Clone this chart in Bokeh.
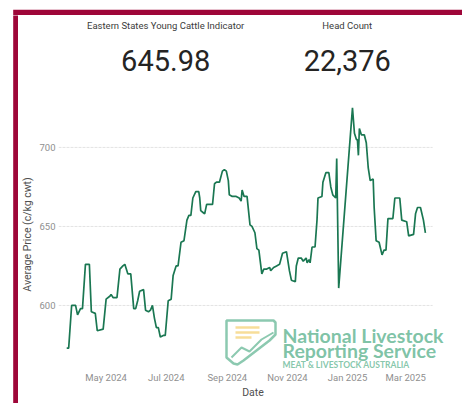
import pandas as pd
from bokeh.plotting import figure
from bokeh.layouts import row, column
from bokeh.models import (ColumnDataSource, Range1d, FixedTicker, DatetimeTickFormatter,
                          Label, BoxAnnotation, PolyAnnotation)
from bokeh.embed import file_html
from bokeh.resources import INLINE

# ---------------- data ----------------
dates = [
    "2024-03-22", "2024-03-24", "2024-03-27", "2024-03-31", "2024-04-02", "2024-04-05",
    "2024-04-07", "2024-04-10", "2024-04-14", "2024-04-16", "2024-04-20", "2024-04-22",
    "2024-04-28", "2024-05-01", "2024-05-05", "2024-05-06", "2024-05-08", "2024-05-12",
    "2024-05-15", "2024-05-18", "2024-05-20", "2024-05-21", "2024-05-23", "2024-05-26",
    "2024-05-29", "2024-05-31", "2024-06-02", "2024-06-04", "2024-06-08", "2024-06-10",
    "2024-06-13", "2024-06-15", "2024-06-17", "2024-06-19", "2024-06-21", "2024-06-23",
    "2024-06-25", "2024-06-28", "2024-06-30", "2024-07-03", "2024-07-06", "2024-07-08",
    "2024-07-11", "2024-07-13", "2024-07-16", "2024-07-19", "2024-07-22", "2024-07-24",
    "2024-07-26", "2024-07-28", "2024-07-31", "2024-08-03", "2024-08-04", "2024-08-05",
    "2024-08-07", "2024-08-09", "2024-08-11", "2024-08-17", "2024-08-19", "2024-08-21",
    "2024-08-24", "2024-08-27", "2024-08-29", "2024-08-31", "2024-09-02", "2024-09-03",
    "2024-09-06", "2024-09-10", "2024-09-13", "2024-09-15", "2024-09-16", "2024-09-18",
    "2024-09-21", "2024-09-24", "2024-09-26", "2024-09-29", "2024-10-01", "2024-10-03",
    "2024-10-06", "2024-10-08", "2024-10-11", "2024-10-14", "2024-10-15", "2024-10-18",
    "2024-10-21", "2024-10-24", "2024-10-27", "2024-10-31", "2024-11-03", "2024-11-05",
    "2024-11-09", "2024-11-10", "2024-11-12", "2024-11-15", "2024-11-17", "2024-11-20",
    "2024-11-21", "2024-11-23", "2024-11-24", "2024-11-26", "2024-11-29", "2024-12-01",
    "2024-12-02", "2024-12-06", "2024-12-07", "2024-12-10", "2024-12-13", "2024-12-15",
    "2024-12-17", "2024-12-20", "2024-12-21", "2024-12-23", "2025-01-06", "2025-01-08",
    "2025-01-10", "2025-01-11", "2025-01-12", "2025-01-13", "2025-01-15", "2025-01-18",
    "2025-01-20", "2025-01-22", "2025-01-24", "2025-01-27", "2025-01-28", "2025-01-30",
    "2025-02-02", "2025-02-05", "2025-02-07", "2025-02-09", "2025-02-11", "2025-02-16",
    "2025-02-18", "2025-02-23", "2025-02-25", "2025-03-02", "2025-03-04", "2025-03-09",
    "2025-03-11", "2025-03-13", "2025-03-16", "2025-03-19", "2025-03-21",
]
prices = [
    573, 573, 600, 600, 594, 598,
    598, 626, 626, 596, 595, 584,
    585, 604, 606, 607, 605, 605,
    623, 625, 626, 624, 620, 620,
    598, 598, 603, 609, 610, 597,
    596, 597, 600, 592, 586, 586,
    580, 581, 581, 603, 604, 619,
    625, 625, 640, 641, 654, 657,
    657, 668, 672, 672, 668, 660,
    659, 658, 664, 664, 677, 678,
    678, 685, 686, 685, 679, 670,
    669, 669, 668, 666, 673, 669,
    669, 651, 650, 646, 636, 635,
    620, 623, 623, 624, 622, 624,
    625, 626, 633, 634, 622, 616,
    615, 625, 630, 630, 628, 630,
    627, 629, 627, 637, 637, 654,
    668, 669, 678, 684, 684, 675,
    670, 668, 693, 611, 725, 709,
    705, 705, 695, 712, 708, 708,
    703, 687, 679, 680, 662, 641,
    640, 632, 635, 635, 655, 655,
    668, 668, 654, 653, 644, 645,
    658, 662, 662, 654, 645.98,
]
tick_dates = ["2024-05-01", "2024-07-01", "2024-09-01", "2024-11-01", "2025-01-01", "2025-03-01"]
y_ticks = [600, 650, 700]
card_titles = ["Eastern States Young Cattle Indicator", "Head Count"]
card_values = ["645.98", "22,376"]
y_label = "Average Price (c/kg cwt)"
x_label = "Date"
logo_lines = ["National Livestock", "Reporting Service", "MEAT & LIVESTOCK AUSTRALIA"]

RED = "#9e0639"
TEAL = "#78bfa2"
YELLOW = "#f6d98e"

# page geometry (content starts at the window's top-left corner)
PAGE_W, PAGE_H = 462, 403
TOPBAR_H = 15
LEFTBAR_W = 18
CW = PAGE_W - LEFTBAR_W          # 444
HEAD_H = 85                      # page y 15 .. 100
CH = PAGE_H - TOPBAR_H - HEAD_H  # 303, page y 100 .. 403
C_LEFT, C_RIGHT, C_TOP, C_BOTTOM = 37, 15, 0, 35
FRAME_L = LEFTBAR_W + C_LEFT            # 55
FRAME_R = PAGE_W - C_RIGHT              # 447
FRAME_B = PAGE_H - C_BOTTOM             # 368
GRID_R = 432                            # gridlines stop here (page px)
PX_PER_DAY = 0.993


def bare(width, height, xr, yr, **kw):
    f = figure(width=width, height=height, output_backend="svg", toolbar_location=None,
               x_range=Range1d(*xr), y_range=Range1d(*yr),
               x_axis_location=None, y_axis_location=None, **kw)
    f.grid.visible = False
    f.outline_line_color = None
    f.background_fill_color = "white"
    f.border_fill_color = "white"
    return f


# ---------------- red frame bars ----------------
topbar = bare(PAGE_W, TOPBAR_H, (0, PAGE_W), (TOPBAR_H, 0), min_border=0)
topbar.add_layout(BoxAnnotation(left=12.7, right=PAGE_W, top=9.3, bottom=TOPBAR_H + 1,
                                fill_color=RED, fill_alpha=1, line_color=None))
leftbar = bare(LEFTBAR_W, PAGE_H - TOPBAR_H, (0, LEFTBAR_W), (PAGE_H - TOPBAR_H, 0), min_border=0)
leftbar.add_layout(BoxAnnotation(left=12.7, right=LEFTBAR_W, top=-1, bottom=PAGE_H,
                                 fill_color=RED, fill_alpha=1, line_color=None))

# ---------------- header cards (page coordinates) ----------------
head = bare(CW, HEAD_H, (FRAME_L, FRAME_R), (TOPBAR_H + HEAD_H, TOPBAR_H),
            min_border_left=C_LEFT, min_border_right=C_RIGHT,
            min_border_top=0, min_border_bottom=0)
card_x = [163, 346]
for i in range(2):
    head.add_layout(Label(x=card_x[i], y=25, text=card_titles[i], text_align="center",
                          text_baseline="middle", text_font="Roboto",
                          text_font_size="9.5px", text_color="#3c3c3c"))
    head.add_layout(Label(x=card_x[i], y=60, text=card_values[i], text_align="center",
                          text_baseline="middle", text_font="Roboto",
                          text_font_size="29px", text_color="#252423"))

# ---------------- chart ----------------
src = ColumnDataSource(dict(date=pd.to_datetime(dates), price=prices))
x_start = pd.Timestamp("2024-03-13 16:00")
x_end = x_start + pd.Timedelta(days=(FRAME_R - FRAME_L) / PX_PER_DAY)
x_grid_end = x_start + pd.Timedelta(days=(GRID_R - FRAME_L) / PX_PER_DAY)
p = figure(width=CW, height=CH, output_backend="svg", toolbar_location=None,
           x_axis_type="datetime",
           x_range=Range1d(x_start, x_end),
           y_range=Range1d(560.1, 729.7),
           min_border_left=C_LEFT, min_border_right=C_RIGHT,
           min_border_top=C_TOP, min_border_bottom=C_BOTTOM)
p.outline_line_color = None
p.background_fill_color = "white"
p.border_fill_color = "white"

# horizontal gridlines at the y ticks, spanning the plotted date extent
grid_src = ColumnDataSource(dict(x0=[x_start] * len(y_ticks), x1=[x_grid_end] * len(y_ticks),
                                 y=y_ticks))
p.segment(x0="x0", x1="x1", y0="y", y1="y", source=grid_src,
          line_color="#e3e3e3", line_width=1, line_dash="3 1")

p.line("date", "price", source=src, line_color="#1a7752", line_width=1.7)

tick_ms = [float(pd.Timestamp(d).value // 10**6) for d in tick_dates]
p.xaxis.ticker = FixedTicker(ticks=tick_ms)
fmt = "%b %Y"
p.xaxis.formatter = DatetimeTickFormatter(days=fmt, months=fmt, years=fmt, hours=fmt,
                                          minutes=fmt, seconds=fmt, milliseconds=fmt,
                                          microseconds=fmt, minsec=fmt, hourmin=fmt)
p.yaxis.ticker = FixedTicker(ticks=y_ticks)

for ax in (p.xaxis[0], p.yaxis[0]):
    ax.axis_line_color = None
    ax.major_tick_line_color = None
    ax.minor_tick_line_color = None
    ax.major_tick_out = 0
    ax.major_tick_in = 0
    ax.minor_tick_out = 0
    ax.minor_tick_in = 0
    ax.major_label_text_color = "#8f8f8f"
    ax.major_label_text_font = "Roboto"
    ax.major_label_text_font_size = "9.5px"
    ax.axis_label_text_font = "Roboto"
    ax.axis_label_text_font_style = "normal"
    ax.axis_label_text_color = "#505050"
    ax.axis_label_text_font_size = "10.5px"

p.xaxis.axis_label = x_label
p.yaxis.axis_label = y_label
p.xaxis.major_label_standoff = 3
p.xaxis.axis_label_standoff = 0
p.yaxis.major_label_standoff = 3
p.yaxis.axis_label_standoff = 2

p.xgrid.grid_line_color = None
p.ygrid.grid_line_color = None


def sx(x):  # page x -> frame screen x
    return x - FRAME_L


def sy(y):  # page y -> frame screen y (from bottom)
    return FRAME_B - y


# ---------------- watermark logo ----------------
ox = [223, 270, 272, 272, 266, 240, 234, 230, 223]
oy = [320, 320, 322, 334, 340, 360, 364, 363, 357]
p.add_layout(PolyAnnotation(xs=[sx(v) for v in ox], ys=[sy(v) for v in oy],
                            xs_units="screen", ys_units="screen",
                            fill_color=None, fill_alpha=0, line_color=TEAL, line_width=2.5,
                            line_alpha=0.85))
zx = [228, 238, 246, 258, 270]
zy = [357, 347, 351, 339, 332]
p.add_layout(PolyAnnotation(xs=[sx(v) for v in zx + zx[::-1]], ys=[sy(v) for v in zy + zy[::-1]],
                            xs_units="screen", ys_units="screen",
                            fill_color=None, fill_alpha=0, line_color=TEAL, line_width=2,
                            line_alpha=0.85))
for yy, xr in ((327, 256), (332, 256), (337, 248)):
    p.add_layout(BoxAnnotation(left=sx(232), right=sx(xr), top=sy(yy - 1.3), bottom=sy(yy + 1.3),
                               left_units="screen", right_units="screen",
                               top_units="screen", bottom_units="screen",
                               fill_color=YELLOW, fill_alpha=0.9, line_color=None))
p.add_layout(Label(x=sx(279), y=sy(335), x_units="screen", y_units="screen",
                   text=logo_lines[0], text_align="left", text_baseline="alphabetic",
                   text_font="Lato", text_font_style="bold", text_font_size="19.5px",
                   text_color=TEAL, text_alpha=0.95))
p.add_layout(Label(x=sx(279), y=sy(350), x_units="screen", y_units="screen",
                   text=logo_lines[1], text_align="left", text_baseline="alphabetic",
                   text_font="Lato", text_font_style="bold", text_font_size="19.5px",
                   text_color=TEAL, text_alpha=0.95))
p.add_layout(Label(x=sx(279), y=sy(364), x_units="screen", y_units="screen",
                   text=logo_lines[2], text_align="left", text_baseline="middle",
                   text_font="Lato", text_font_style="bold", text_font_size="8.5px",
                   text_color=TEAL, text_alpha=0.9))

layout = column(topbar, row(leftbar, column(head, p)))
open("out.html", "w").write(file_html(layout, INLINE))
